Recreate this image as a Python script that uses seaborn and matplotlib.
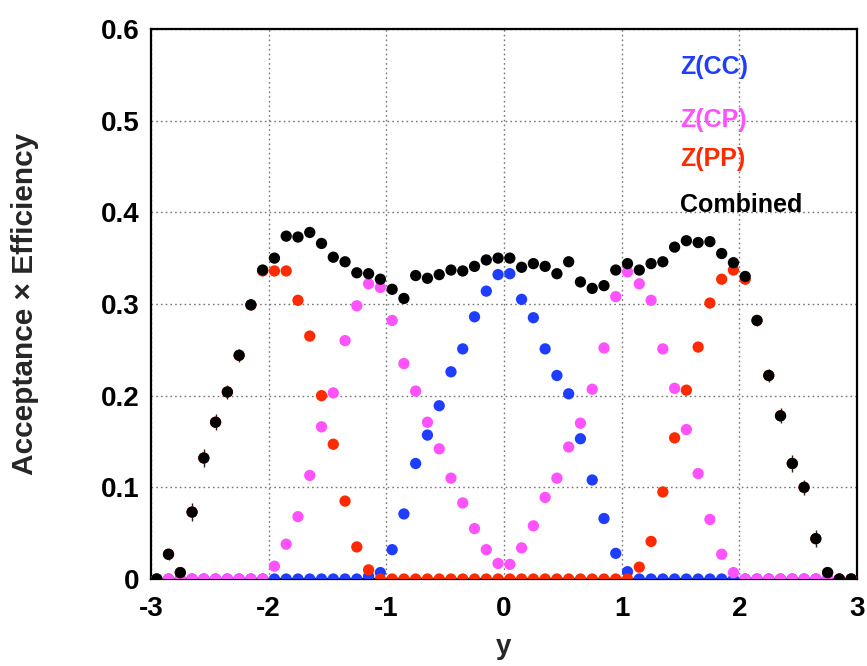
import numpy as np
import pandas as pd
import matplotlib
matplotlib.use("Agg")
import matplotlib.pyplot as plt
from matplotlib.ticker import MultipleLocator, FuncFormatter
import seaborn as sns

# Rapidity bin centres
y_bins = [-2.95, -2.85, -2.75, -2.65, -2.55, -2.45, -2.35, -2.25, -2.15, -2.05,
          -1.95, -1.85, -1.75, -1.65, -1.55, -1.45, -1.35, -1.25, -1.15, -1.05,
          -0.95, -0.85, -0.75, -0.65, -0.55, -0.45, -0.35, -0.25, -0.15, -0.05,
          0.05, 0.15, 0.25, 0.35, 0.45, 0.55, 0.65, 0.75, 0.85, 0.95,
          1.05, 1.15, 1.25, 1.35, 1.45, 1.55, 1.65, 1.75, 1.85, 1.95,
          2.05, 2.15, 2.25, 2.35, 2.45, 2.55, 2.65, 2.75, 2.85, 2.95]

# Acceptance x efficiency per topology
acc_cc = [0.0, 0.0, 0.0, 0.0, 0.0, 0.0, 0.0, 0.0, 0.0, 0.0,
          0.0, 0.0, 0.0, 0.0, 0.0, 0.0, 0.0, 0.0, 0.003, 0.007,
          0.032, 0.071, 0.126, 0.157, 0.189, 0.226, 0.251, 0.286, 0.314, 0.332,
          0.333, 0.305, 0.285, 0.251, 0.222, 0.202, 0.153, 0.108, 0.066, 0.028,
          0.008, 0.0, 0.0, 0.0, 0.0, 0.0, 0.0, 0.0, 0.0, 0.0,
          0.0, 0.0, 0.0, 0.0, 0.0, 0.0, 0.0, 0.0, 0.0, 0.0]

acc_cp = [0.0, 0.0, 0.0, 0.0, 0.0, 0.0, 0.0, 0.0, 0.0, 0.0,
          0.014, 0.038, 0.068, 0.113, 0.166, 0.203, 0.260, 0.298, 0.322, 0.318,
          0.282, 0.235, 0.205, 0.171, 0.142, 0.110, 0.083, 0.055, 0.032, 0.017,
          0.016, 0.034, 0.058, 0.089, 0.110, 0.144, 0.170, 0.207, 0.252, 0.308,
          0.335, 0.322, 0.304, 0.251, 0.208, 0.163, 0.115, 0.065, 0.027, 0.007,
          0.0, 0.0, 0.0, 0.0, 0.0, 0.0, 0.0, 0.0, 0.0, 0.0]

acc_pp = [0.0, 0.027, 0.007, 0.073, 0.132, 0.171, 0.204, 0.244, 0.299, 0.336,
          0.336, 0.336, 0.304, 0.265, 0.200, 0.147, 0.085, 0.035, 0.010, 0.0,
          0.0, 0.0, 0.0, 0.0, 0.0, 0.0, 0.0, 0.0, 0.0, 0.0,
          0.0, 0.0, 0.0, 0.0, 0.0, 0.0, 0.0, 0.0, 0.0, 0.0,
          0.0, 0.013, 0.041, 0.095, 0.154, 0.206, 0.253, 0.301, 0.327, 0.337,
          0.327, 0.282, 0.222, 0.178, 0.126, 0.100, 0.044, 0.007, 0.0, 0.0]

acc_comb = [0.0, 0.027, 0.007, 0.073, 0.132, 0.171, 0.204, 0.244, 0.299, 0.337,
            0.350, 0.374, 0.373, 0.378, 0.366, 0.351, 0.346, 0.334, 0.333, 0.327,
            0.316, 0.306, 0.331, 0.328, 0.332, 0.337, 0.336, 0.341, 0.348, 0.350,
            0.350, 0.340, 0.344, 0.341, 0.333, 0.346, 0.324, 0.317, 0.320, 0.337,
            0.344, 0.337, 0.344, 0.346, 0.362, 0.369, 0.367, 0.368, 0.355, 0.345,
            0.330, 0.282, 0.222, 0.178, 0.126, 0.100, 0.044, 0.007, 0.0, 0.0]

err_comb = [0.0, 0.006, 0.004, 0.010, 0.010, 0.009, 0.008, 0.007, 0.006, 0.005,
            0.003, 0.003, 0.003, 0.003, 0.003, 0.003, 0.003, 0.003, 0.003, 0.003,
            0.003, 0.003, 0.003, 0.003, 0.003, 0.003, 0.003, 0.003, 0.003, 0.003,
            0.003, 0.003, 0.003, 0.003, 0.003, 0.003, 0.003, 0.003, 0.003, 0.003,
            0.003, 0.003, 0.003, 0.003, 0.003, 0.003, 0.003, 0.003, 0.003, 0.003,
            0.005, 0.006, 0.007, 0.008, 0.009, 0.008, 0.009, 0.005, 0.0, 0.0]

series_names = ["Z(CC)", "Z(CP)", "Z(PP)", "Combined"]
series_colors = ["#1f3dff", "#ff52ff", "#ff2a00", "#000000"]

df = pd.DataFrame({
    "y": y_bins * 4,
    "acc": acc_cc + acc_cp + acc_pp + acc_comb,
    "sample": sum([[n] * len(y_bins) for n in series_names], []),
})

sns.set_style("white")
plt.rcParams["font.family"] = ["Liberation Sans", "DejaVu Sans"]
plt.rcParams["font.weight"] = "bold"

fig = plt.figure(figsize=(8.67, 6.66), dpi=100)
ax = fig.add_axes([0.174, 0.1306, 0.8145, 0.826])

# combined statistical uncertainties
ax.errorbar(y_bins, acc_comb, yerr=err_comb, fmt="none", ecolor="#222222",
            elinewidth=1.0, capsize=0, zorder=3)

for z, (name, col) in enumerate(zip(series_names, series_colors)):
    sns.scatterplot(data=df[df["sample"] == name], x="y", y="acc", color=col,
                    s=66, edgecolor="none", linewidth=0, ax=ax, zorder=4 + z,
                    legend=False)

ax.set_xlim(-3, 3)
ax.set_ylim(0, 0.6)
ax.xaxis.set_major_locator(MultipleLocator(1))
ax.xaxis.set_minor_locator(MultipleLocator(0.2))
ax.yaxis.set_major_locator(MultipleLocator(0.1))
ax.yaxis.set_minor_locator(MultipleLocator(0.02))
ax.xaxis.set_major_formatter(FuncFormatter(lambda v, p: f"{int(round(v))}"))
ax.yaxis.set_major_formatter(
    FuncFormatter(lambda v, p: "0" if abs(v) < 1e-9 else f"{v:.1f}"))

ax.grid(True, which="major", linestyle=(0, (1.2, 2.2)), color="#777777",
        linewidth=1.0)
ax.set_axisbelow(True)

for sp in ax.spines.values():
    sp.set_visible(True)
    sp.set_color("black")
    sp.set_linewidth(1.6)

ax.tick_params(axis="both", which="both", direction="in", top=False,
               right=False, labelsize=20, colors="black")
ax.tick_params(axis="y", which="major", length=16.5, width=1.2, pad=8)
ax.tick_params(axis="y", which="minor", length=8.5, width=1.0)
ax.tick_params(axis="x", which="major", length=10, width=1.2, pad=12)
ax.tick_params(axis="x", which="minor", length=4.7, width=1.0)
for lab in ax.get_xticklabels() + ax.get_yticklabels():
    lab.set_fontweight("bold")

ax.set_xlabel("y", fontsize=20, fontweight="bold")
ax.xaxis.set_label_coords(0.5, -0.10)
ax.set_ylabel("Acceptance \u00d7 Efficiency", fontsize=21.5, fontweight="bold")
ax.yaxis.set_label_coords(-0.158, 0.5)

legend_y = [0.931, 0.835, 0.764, 0.68]
for name, col, ty in zip(series_names, series_colors, legend_y):
    ax.text(0.749, ty, name, color=col, fontsize=18, fontweight="bold",
            transform=ax.transAxes, va="center", ha="left")

fig.savefig("out.png", dpi=100)
